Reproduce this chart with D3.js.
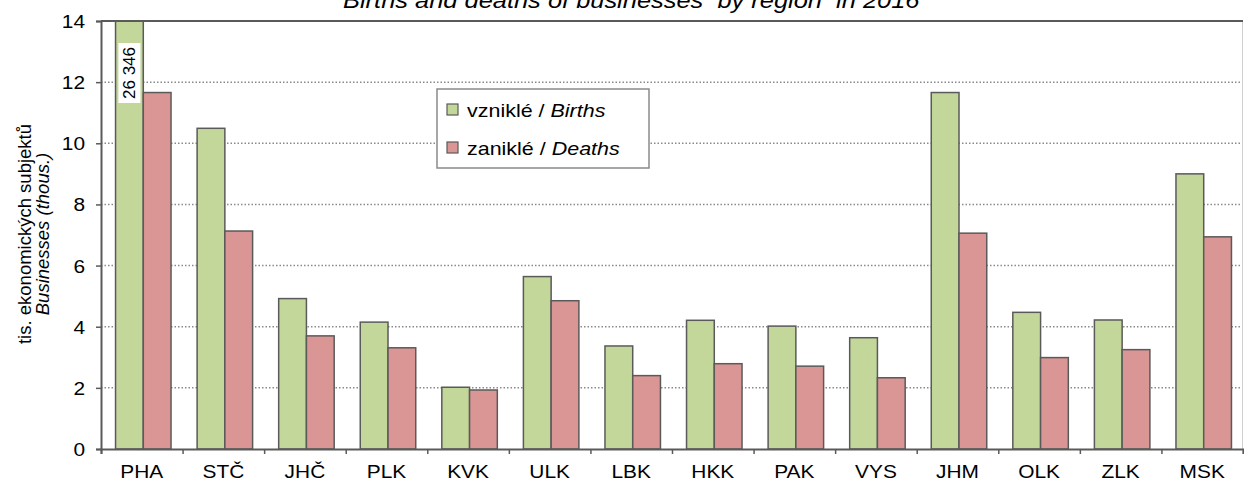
<!DOCTYPE html>
<html>
<head>
<meta charset="utf-8">
<script src="https://cdn.jsdelivr.net/npm/d3@7"></script>
<style>
  body { margin: 0; background: #fff; }
  svg { font-family: "Liberation Sans", Arial, sans-serif; }
</style>
</head>
<body>
<div id="chart"></div>
<script>
// kraje
const regions = ['PHA', 'STČ', 'JHČ', 'PLK', 'KVK', 'ULK', 'LBK', 'HKK', 'PAK', 'VYS', 'JHM', 'OLK', 'ZLK', 'MSK'];
// vzniklé / zaniklé (tis.)
const births = [26.346, 10.49, 4.92, 4.15, 2.02, 5.64, 3.37, 4.21, 4.02, 3.64, 11.66, 4.47, 4.22, 9.0];
const deaths = [11.66, 7.13, 3.70, 3.31, 1.93, 4.85, 2.40, 2.79, 2.71, 2.33, 7.06, 2.99, 3.25, 6.94];
const yTicks = [0, 2, 4, 6, 8, 10, 12, 14];
const seriesNames = ['births', 'deaths'];

const width = 1244;
const height = 485;
const margin = { left: 101, right: 1, top: 21, bottom: 36 };
const colors = { births: '#c4d79b', deaths: '#da9694' };
const strokeCol = '#5a5a5a';
const stretch = 1.13; // text is a bit wider than plain Arial

const svg = d3.select('#chart').append('svg')
  .attr('width', width)
  .attr('height', height);

const x = d3.scaleBand()
  .domain(regions)
  .range([margin.left, width - margin.right])
  .padding(0);

const x1 = d3.scaleBand()
  .domain(seriesNames)
  .range([0, x.bandwidth()])
  .paddingInner(0)
  .paddingOuter(0.47);

const y = d3.scaleLinear()
  .domain([0, 14])
  .range([height - margin.bottom, margin.top]);

// mřížka
svg.append('g')
  .selectAll('line')
  .data(yTicks.filter(d => d > 0))
  .enter().append('line')
  .attr('x1', margin.left)
  .attr('x2', width - margin.right)
  .attr('y1', d => y(d))
  .attr('y2', d => y(d))
  .attr('stroke', '#8a8a8a')
  .attr('stroke-width', 1.5)
  .attr('stroke-dasharray', '1.5,2');

// pravý okraj
svg.append('line')
  .attr('x1', width - margin.right - 0.5).attr('x2', width - margin.right - 0.5)
  .attr('y1', y(14)).attr('y2', y(0))
  .attr('stroke', '#d0d0d0');

svg.append('defs').append('clipPath').attr('id', 'plotClip')
  .append('rect')
  .attr('x', margin.left)
  .attr('y', y(14))
  .attr('width', width - margin.left - margin.right)
  .attr('height', y(0) - y(14));

const rows = regions.map((r, i) => ({ region: r, births: births[i], deaths: deaths[i] }));

const groups = svg.append('g')
  .attr('clip-path', 'url(#plotClip)')
  .selectAll('g')
  .data(rows)
  .enter().append('g')
  .attr('transform', d => `translate(${x(d.region) + 1.5},0)`);

groups.selectAll('rect')
  .data(d => seriesNames.map(k => ({ key: k, value: d[k] })))
  .enter().append('rect')
  .attr('x', d => x1(d.key))
  .attr('width', x1.bandwidth())
  .attr('y', d => y(Math.min(d.value, 14.3)))
  .attr('height', d => y(0) - y(Math.min(d.value, 14.3)))
  .attr('fill', d => colors[d.key])
  .attr('stroke', strokeCol)
  .attr('stroke-width', 1.5);

// horní hrana
svg.append('line')
  .attr('x1', margin.left).attr('x2', width - margin.right)
  .attr('y1', y(14)).attr('y2', y(14))
  .attr('stroke', strokeCol)
  .attr('stroke-width', 2);

// osa y
const yAxis = svg.append('g')
  .attr('transform', `translate(${margin.left},0)`)
  .call(d3.axisLeft(y).tickValues(yTicks).tickSize(5).tickFormat(''));
yAxis.select('.domain').attr('stroke', strokeCol).attr('stroke-width', 2);
yAxis.selectAll('.tick line').attr('stroke', strokeCol).attr('stroke-width', 1.5);
yAxis.selectAll('.tick')
  .append('text')
  .attr('transform', `translate(-16,0) scale(${stretch},1)`)
  .attr('text-anchor', 'end')
  .attr('dy', '0.35em')
  .attr('font-size', 18.5)
  .attr('fill', '#000')
  .text(d => d);

// osa x
const xAxis = svg.append('g')
  .attr('transform', `translate(0,${y(0)})`)
  .call(d3.axisBottom(x).tickSize(0).tickFormat(''));
xAxis.select('.domain').remove();
xAxis.selectAll('.tick')
  .append('text')
  .attr('transform', `translate(0,29) scale(${stretch},1)`)
  .attr('text-anchor', 'middle')
  .attr('font-size', 18.5)
  .attr('fill', '#000')
  .text(d => d);

const xIdx = d3.scaleLinear().domain([0, regions.length]).range([margin.left, width - margin.right]);
const xTickAxis = svg.append('g')
  .attr('transform', `translate(0,${y(0)})`)
  .call(d3.axisBottom(xIdx).ticks(regions.length).tickFormat('').tickSize(5));
xTickAxis.select('.domain').attr('stroke', strokeCol).attr('stroke-width', 2);
xTickAxis.selectAll('.tick line').attr('stroke', strokeCol).attr('stroke-width', 1.5);

// popisek PHA
const phaX = x('PHA') + 1.5 + x1('births') + x1.bandwidth() / 2;
const lbl = svg.append('g')
  .attr('transform', `translate(${phaX},${y(14) + 52}) rotate(-90)`);
lbl.append('rect')
  .attr('x', -30).attr('y', -11)
  .attr('width', 60).attr('height', 22)
  .attr('fill', '#fff');
lbl.append('text')
  .attr('text-anchor', 'middle')
  .attr('dy', '0.35em')
  .attr('font-size', 17)
  .text(d3.format(',.0f')(births[0] * 1000).replace(',', ' '));

// titulek (nahoře oříznutý jako v předloze)
svg.append('text')
  .attr('transform', `translate(343,8) scale(${stretch},1)`)
  .attr('font-size', 22.5)
  .attr('font-style', 'italic')
  .style('white-space', 'pre')
  .text('Births and deaths of businesses  by region  in 2016');

// popisek osy y
const yl = svg.append('text')
  .attr('transform', `translate(0,234) rotate(-90)`)
  .attr('text-anchor', 'middle')
  .attr('font-size', 18.5);
yl.append('tspan').attr('x', 0).attr('y', 31).text('tis. ekonomických subjektů');
yl.append('tspan').attr('x', 0).attr('y', 49).attr('font-style', 'italic').text('Businesses (thous.)');

// legenda
const legend = svg.append('g').attr('transform', 'translate(437,89)');
legend.append('rect')
  .attr('width', 212).attr('height', 79)
  .attr('fill', '#fff')
  .attr('stroke', '#8a8a8a')
  .attr('stroke-width', 1.5);
const legendItems = [
  { key: 'births', cz: 'vzniklé / ', en: 'Births' },
  { key: 'deaths', cz: 'zaniklé / ', en: 'Deaths' }
];
const li = legend.selectAll('.li')
  .data(legendItems)
  .enter().append('g')
  .attr('transform', (d, i) => `translate(10,${15 + i * 38})`);
li.append('rect')
  .attr('width', 11).attr('height', 11)
  .attr('fill', d => colors[d.key])
  .attr('stroke', strokeCol)
  .attr('stroke-width', 1.2);
const lt = li.append('text')
  .attr('transform', `translate(20,13) scale(${stretch},1)`)
  .attr('font-size', 19)
  .style('white-space', 'pre');
lt.append('tspan').text(d => d.cz);
lt.append('tspan').attr('font-style', 'italic').text(d => d.en);
</script>
</body>
</html>
